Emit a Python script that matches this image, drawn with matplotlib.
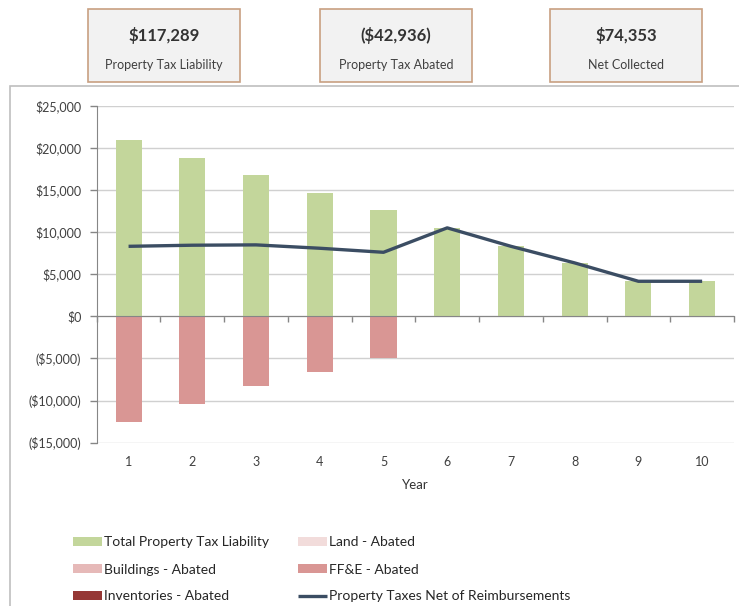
import matplotlib.pyplot as plt
import numpy as np
from matplotlib.patches import Rectangle
from matplotlib.ticker import FuncFormatter

plt.rcParams['font.family'] = ['Lato', 'DejaVu Sans']

YEARS = ['1', '2', '3', '4', '5', '6', '7', '8', '9', '10']
TOTAL_LIABILITY = [20900, 18810, 16790, 14650, 12590, 10500, 8310, 6340, 4160, 4160]
LAND_ABATED = [0, 0, 0, 0, 0, 0, 0, 0, 0, 0]
BUILDINGS_ABATED = [0, 0, 0, 0, 0, 0, 0, 0, 0, 0]
FFE_ABATED = [-12590, -10370, -8310, -6570, -4990, 0, 0, 0, 0, 0]
INVENTORIES_ABATED = [0, 0, 0, 0, 0, 0, 0, 0, 0, 0]
NET_TAXES = [8310, 8440, 8480, 8080, 7600, 10500, 8310, 6340, 4160, 4160]

SUMMARY_VALUES = ['$117,289', '($42,936)', '$74,353']
SUMMARY_LABELS = ['Property Tax Liability', 'Property Tax Abated', 'Net Collected']

GREEN = '#C3D69B'
LAND_C = '#F2DCDB'
BUILD_C = '#E6B9B8'
FFE_C = '#D99694'
INV_C = '#953735'
LINE_C = '#3B4D63'
GRID_C = '#BFBFBF'
TEXT_C = '#404040'

W, H = 739, 606


def money(v, pos=None):
    if v < 0:
        return '(${:,.0f})'.format(-v)
    return '${:,.0f}'.format(v)


fig = plt.figure(figsize=(W / 100, H / 100), dpi=100)

# outer chart frame
fig.patches.append(Rectangle((10 / W, -0.1), 1.0, (H - 86) / H + 0.1,
                             transform=fig.transFigure, fill=False,
                             edgecolor=GRID_C, linewidth=1.2))

# summary boxes on top
for i, (val, lab) in enumerate(zip(SUMMARY_VALUES, SUMMARY_LABELS)):
    x0 = [88, 320, 550][i]
    fig.patches.append(Rectangle((x0 / W, 1 - 82 / H), 152 / W, 73 / H,
                                 transform=fig.transFigure,
                                 facecolor='#F2F2F2', edgecolor='#C8A081',
                                 linewidth=1.2))
    cx = (x0 + 76) / W
    fig.text(cx, 1 - 36 / H, val, ha='center', va='center', fontsize=12,
             fontweight='bold', color='#333333')
    fig.text(cx, 1 - 65 / H, lab, ha='center', va='center', fontsize=9,
             color=TEXT_C)

ax = fig.add_axes([96.7 / W, (H - 442.7) / H, (734 - 96.7) / W, 337 / H])

x = np.arange(len(YEARS))
bw = 0.41
h_total = ax.bar(x, TOTAL_LIABILITY, bw, color=GREEN, zorder=2)
h_land = ax.bar(x, LAND_ABATED, bw, color=LAND_C, zorder=2)
h_build = ax.bar(x, BUILDINGS_ABATED, bw, color=BUILD_C, zorder=2)
h_ffe = ax.bar(x, FFE_ABATED, bw, color=FFE_C, zorder=2)
h_inv = ax.bar(x, INVENTORIES_ABATED, bw, color=INV_C, zorder=2)
h_line, = ax.plot(x, NET_TAXES, color=LINE_C, linewidth=2.4, zorder=4,
                  solid_capstyle='butt')

ax.set_xlim(-0.5, len(YEARS) - 0.5)
ax.set_ylim(-15000, 25000)
ax.set_yticks(np.arange(-15000, 25001, 5000))
ax.yaxis.set_major_formatter(FuncFormatter(money))
ax.tick_params(axis='y', length=5, width=1, color='#868686', pad=6,
               labelsize=9, labelcolor=TEXT_C)
ax.grid(axis='y', color='#D0D0D0', linewidth=1, zorder=0)

# x axis drawn at zero with boundary ticks
for s in ['top', 'right']:
    ax.spines[s].set_visible(False)
ax.spines['left'].set_color('#868686')
ax.spines['bottom'].set_position(('data', 0))
ax.spines['bottom'].set_color('#868686')
ax.spines['bottom'].set_zorder(3)
ax.set_xticks(np.arange(len(YEARS) + 1) - 0.5)
ax.set_xticklabels([])
ax.tick_params(axis='x', length=4, width=1, color='#868686', direction='out')

for xi, lab in zip(x, YEARS):
    ax.text(xi, -0.057, lab, transform=ax.get_xaxis_transform(),
            ha='center', va='center', fontsize=9, color=TEXT_C)
ax.text(0.5, -0.127, 'Year', transform=ax.transAxes, ha='center',
        va='center', fontsize=9.5, color='#333333')

fig.legend([h_total, h_build, h_inv, h_land, h_ffe, h_line],
           ['Total Property Tax Liability', 'Buildings - Abated',
            'Inventories - Abated', 'Land - Abated', 'FF&E - Abated',
            'Property Taxes Net of Reimbursements'],
           ncol=2, loc='upper left', bbox_to_anchor=(60 / W, 1 - 524 / H),
           frameon=False, fontsize=10, handlelength=2.1, handleheight=0.6,
           handletextpad=0.15, columnspacing=2.1, labelspacing=1.08,
           labelcolor='#262626')

fig.savefig('out.png', dpi=100)
